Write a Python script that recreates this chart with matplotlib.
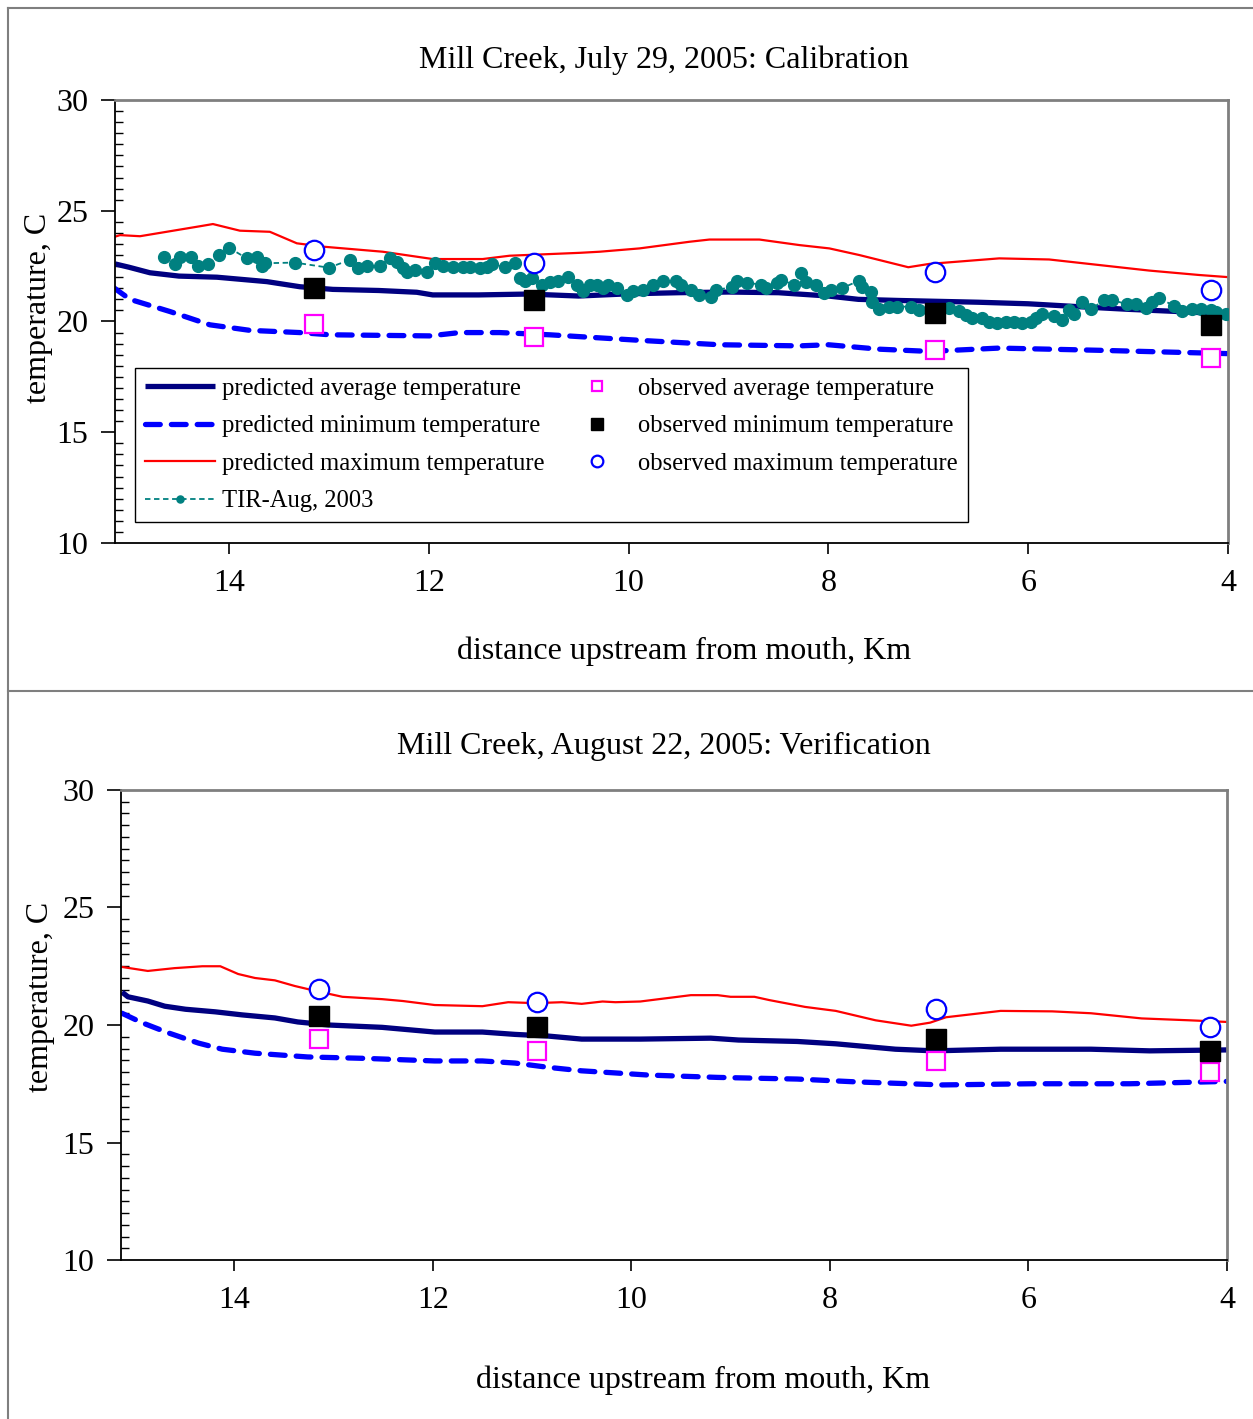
import numpy as np
import matplotlib
matplotlib.use("Agg")
import matplotlib.pyplot as plt
from matplotlib.ticker import MultipleLocator
from matplotlib.lines import Line2D

plt.rcParams['font.family'] = ['Liberation Serif', 'DejaVu Serif']

# ---------------- top panel: July 29, 2005 (calibration) ----------------
cal_avg_km = [15.14, 15.0, 14.79, 14.5, 14.12, 13.62, 13.29, 12.96, 12.5, 12.12, 11.96, 11.5,
              11.0, 10.5, 10.0, 9.5, 9.0, 8.5, 8.0, 7.7, 7.3, 6.5, 6.0, 5.5, 5.0, 4.5, 4.0]
cal_avg_t = [22.6, 22.45, 22.2, 22.05, 22.0, 21.8, 21.57, 21.45, 21.4, 21.32, 21.2, 21.2,
             21.24, 21.15, 21.25, 21.3, 21.33, 21.3, 21.15, 21.0, 20.95, 20.87, 20.8, 20.67, 20.55, 20.45, 20.34]

cal_min_km = [15.16, 14.99, 14.59, 14.19, 13.79, 13.29, 12.99, 11.99, 11.69, 11.29, 10.79, 9.89,
              9.09, 8.29, 8.0, 7.49, 6.99, 6.29, 5.29, 4.0]
cal_min_t = [21.55, 21.0, 20.45, 19.85, 19.6, 19.5, 19.4, 19.35, 19.5, 19.5, 19.4, 19.15,
             18.95, 18.9, 18.95, 18.75, 18.65, 18.8, 18.7, 18.55]

cal_max_km = [15.16, 15.09, 14.89, 14.69, 14.29, 14.16, 13.89, 13.59, 13.32, 13.06, 12.46, 11.96,
              11.46, 11.19, 10.49, 10.29, 9.89, 9.39, 9.19, 8.69, 8.29, 7.99, 7.69, 7.2, 6.99,
              6.29, 5.79, 5.39, 4.79, 4.29, 3.99]
cal_max_t = [23.8, 23.9, 23.85, 24.0, 24.3, 24.4, 24.1, 24.05, 23.53, 23.38, 23.15, 22.82,
             22.82, 22.97, 23.1, 23.15, 23.3, 23.6, 23.7, 23.7, 23.45, 23.3, 23.0, 22.45, 22.6,
             22.85, 22.8, 22.6, 22.3, 22.1, 22.0]

tir_km = [14.65, 14.54, 14.49, 14.38, 14.31, 14.21, 14.10, 14.0, 13.82, 13.72, 13.67, 13.64,
          13.34, 13.0, 12.79, 12.71, 12.62, 12.49, 12.39, 12.32, 12.26, 12.22, 12.14, 12.02,
          11.94, 11.86, 11.76, 11.66, 11.59, 11.49, 11.42, 11.37, 11.24, 11.14, 11.09, 11.04,
          10.97, 10.87, 10.79, 10.71, 10.61, 10.52, 10.46, 10.39, 10.32, 10.26, 10.21, 10.12,
          10.02, 9.96, 9.86, 9.76, 9.66, 9.52, 9.47, 9.37, 9.29, 9.17, 9.12, 8.96, 8.91, 8.81,
          8.67, 8.62, 8.51, 8.47, 8.34, 8.27, 8.22, 8.12, 8.04, 7.97, 7.86, 7.69, 7.66, 7.57,
          7.56, 7.49, 7.39, 7.31, 7.17, 7.09, 6.79, 6.69, 6.62, 6.56, 6.46, 6.39, 6.31, 6.22,
          6.14, 6.06, 5.97, 5.92, 5.86, 5.74, 5.66, 5.59, 5.54, 5.46, 5.37, 5.24, 5.16, 5.01,
          4.92, 4.82, 4.76, 4.69, 4.54, 4.46, 4.36, 4.27, 4.17, 4.12, 4.02]
tir_t = [22.90, 22.58, 22.93, 22.93, 22.52, 22.60, 23.0, 23.33, 22.85, 22.93, 22.52, 22.63,
         22.66, 22.43, 22.78, 22.40, 22.52, 22.52, 22.85, 22.70, 22.40, 22.25, 22.33, 22.25,
         22.63, 22.52, 22.48, 22.45, 22.45, 22.40, 22.45, 22.58, 22.45, 22.64, 21.96, 21.81,
         21.96, 21.67, 21.78, 21.85, 22.0, 21.67, 21.37, 21.67, 21.64, 21.49, 21.67, 21.49,
         21.21, 21.37, 21.44, 21.67, 21.81, 21.85, 21.67, 21.44, 21.21, 21.09, 21.44, 21.54,
         21.81, 21.74, 21.67, 21.51, 21.74, 21.89, 21.64, 22.19, 21.78, 21.67, 21.29, 21.44,
         21.51, 21.85, 21.57, 21.35, 20.90, 20.55, 20.67, 20.67, 20.67, 20.52, 20.59, 20.47,
         20.29, 20.17, 20.14, 19.99, 19.92, 19.99, 19.99, 19.92, 19.99, 20.14, 20.32, 20.27,
         20.07, 20.52, 20.32, 20.87, 20.56, 20.97, 20.97, 20.78, 20.78, 20.63, 20.90, 21.05,
         20.71, 20.47, 20.56, 20.56, 20.52, 20.42, 20.32]

obs_km = [13.15, 10.95, 6.93, 4.17]
cal_obs_max = [23.23, 22.65, 22.25, 21.4]
cal_obs_min = [21.5, 20.95, 20.4, 19.85]
cal_obs_avg = [19.9, 19.3, 18.7, 18.35]

# ---------------- bottom panel: August 22, 2005 (verification) ----------------
ver_avg_km = [15.13, 15.07, 14.87, 14.7, 14.49, 14.19, 13.92, 13.59, 13.36, 13.05, 12.51, 11.98,
              11.5, 11.17, 10.84, 10.5, 10.16, 9.91, 9.2, 8.92, 8.33, 7.94, 7.34, 6.95, 6.28,
              5.37, 4.78, 4.0]
ver_avg_t = [21.4, 21.2, 21.02, 20.8, 20.67, 20.56, 20.43, 20.3, 20.13, 20.0, 19.9, 19.7,
             19.7, 19.6, 19.53, 19.4, 19.4, 19.4, 19.44, 19.36, 19.3, 19.2, 18.97, 18.9, 18.97,
             18.97, 18.9, 18.94]

ver_min_km = [15.13, 14.93, 14.66, 14.36, 14.12, 13.79, 13.26, 12.68, 11.98, 11.5, 11.17, 10.84,
              10.5, 10.16, 9.83, 9.13, 8.33, 7.74, 6.87, 5.96, 4.98, 4.0]
ver_min_t = [20.5, 20.1, 19.66, 19.23, 18.97, 18.8, 18.64, 18.58, 18.47, 18.47, 18.38, 18.2,
             18.05, 17.96, 17.87, 17.77, 17.7, 17.58, 17.45, 17.5, 17.5, 17.6]

ver_max_km = [15.13, 14.87, 14.6, 14.32, 14.14, 13.96, 13.79, 13.59, 13.39, 13.18, 12.91, 12.51,
              12.3, 11.98, 11.5, 11.24, 10.97, 10.7, 10.5, 10.29, 10.16, 9.91, 9.4, 9.13, 9.0,
              8.76, 8.61, 8.25, 7.94, 7.54, 7.18, 6.99, 6.83, 6.28, 5.76, 5.37, 4.86, 4.38, 4.0]
ver_max_t = [22.47, 22.3, 22.42, 22.5, 22.5, 22.17, 22.0, 21.9, 21.66, 21.45, 21.2, 21.1,
             21.02, 20.85, 20.8, 20.97, 20.93, 20.97, 20.9, 21.0, 20.97, 21.0, 21.27, 21.27, 21.2,
             21.2, 21.06, 20.77, 20.6, 20.2, 19.97, 20.1, 20.33, 20.6, 20.58, 20.5, 20.28, 20.2, 20.13]

ver_obs_max = [21.53, 21.0, 20.7, 19.9]
ver_obs_min = [20.4, 19.9, 19.4, 18.9]
ver_obs_avg = [19.4, 18.9, 18.47, 18.0]

W, H = 1253, 1419
fig = plt.figure(figsize=(W / 100, H / 100), dpi=100)

# panel frames
gray = '#7f7f7f'
fig.add_artist(Line2D([8 / W, 8 / W], [0, 1 - 8 / H], color=gray, lw=1.5))
fig.add_artist(Line2D([8 / W, 1], [1 - 8 / H, 1 - 8 / H], color=gray, lw=1.5))
fig.add_artist(Line2D([8 / W, 1], [1 - 691 / H, 1 - 691 / H], color=gray, lw=1.5))

FS = 23


def make_axes(rect):
    ax = fig.add_axes(rect)
    ax.set_xlim(15.14, 4)
    ax.set_ylim(10, 30)
    ax.set_xticks([14, 12, 10, 8, 6, 4])
    ax.set_yticks([10, 15, 20, 25, 30])
    ax.yaxis.set_minor_locator(MultipleLocator(0.5))
    ax.tick_params(axis='y', which='major', direction='out', length=10, width=1.2, pad=9, labelsize=FS)
    ax.tick_params(axis='y', which='minor', direction='in', length=6, width=1.0)
    ax.tick_params(axis='x', which='major', direction='out', length=8, width=1.2, pad=11, labelsize=FS)
    for s in ['top', 'right']:
        ax.spines[s].set_color(gray)
        ax.spines[s].set_linewidth(2)
    for s in ['left', 'bottom']:
        ax.spines[s].set_color('black')
        ax.spines[s].set_linewidth(1.3)
    ax.set_ylabel('temperature, C', fontsize=FS)
    ax.set_xlabel('distance upstream from mouth, Km', fontsize=FS)
    return ax


def draw(ax, avg_km, avg_t, min_km, min_t, max_km, max_t, o_avg, o_min, o_max):
    h1, = ax.plot(avg_km, avg_t, color='#000080', lw=3.8, solid_capstyle='butt',
                  label='predicted average temperature')
    h2, = ax.plot(min_km, min_t, color='#0000FF', lw=3.8, dashes=(2.8, 2.1),
                  dash_capstyle='round', label='predicted minimum temperature')
    h3, = ax.plot(max_km, max_t, color='#FF0000', lw=1.6, label='predicted maximum temperature')
    h5, = ax.plot(obs_km, o_avg, ls='none', marker='s', ms=13, mfc='white', mec='#FF00FF',
                  mew=1.6, label='observed average temperature', zorder=5)
    h6, = ax.plot(obs_km, o_min, ls='none', marker='s', ms=14, color='black',
                  label='observed minimum temperature', zorder=5)
    h7, = ax.plot(obs_km, o_max, ls='none', marker='o', ms=14, mfc='white', mec='#0000FF',
                  mew=1.6, label='observed maximum temperature', zorder=5)
    return h1, h2, h3, h5, h6, h7


# top axes
ax1 = make_axes([115 / W, 1 - 543 / H, 1113 / W, 443 / H])
h1, h2, h3, h5, h6, h7 = draw(ax1, cal_avg_km, cal_avg_t, cal_min_km, cal_min_t,
                              cal_max_km, cal_max_t, cal_obs_avg, cal_obs_min, cal_obs_max)
h4, = ax1.plot(tir_km, tir_t, color='#008080', lw=1.3, ls=(0, (3, 2)), marker='o', ms=8.5,
               label='TIR-Aug, 2003', zorder=4)
ax1.yaxis.set_label_coords(-0.056, 0.53)
ax1.xaxis.set_label_coords(0.511, -0.212)
leg = ax1.legend([h1, h2, h3, h4, h5, h6, h7],
                 [h.get_label() for h in [h1, h2, h3, h4, h5, h6, h7]],
                 ncol=2, loc='lower left', bbox_to_anchor=(0.018, 0.047), fontsize=17.7,
                 frameon=True, fancybox=False, edgecolor='black', framealpha=1,
                 handlelength=2.85, handletextpad=0.28, columnspacing=0.7, labelspacing=0.62,
                 markerscale=0.6, borderpad=0.4, borderaxespad=0)
leg.get_frame().set_linewidth(1.0)
fig.text(664 / W, 1 - 60 / H, 'Mill Creek, July 29, 2005: Calibration', ha='center', va='center',
         fontsize=FS)

# bottom axes
ax2 = make_axes([121 / W, 1 - 1260 / H, 1106 / W, 470 / H])
draw(ax2, ver_avg_km, ver_avg_t, ver_min_km, ver_min_t, ver_max_km, ver_max_t,
     ver_obs_avg, ver_obs_min, ver_obs_max)
ax2.yaxis.set_label_coords(-0.0597, 0.56)
ax2.xaxis.set_label_coords(0.526, -0.225)
fig.text(664 / W, 1 - 746 / H, 'Mill Creek, August 22, 2005: Verification', ha='center',
         va='center', fontsize=FS)

fig.savefig('out.png', dpi=100)
